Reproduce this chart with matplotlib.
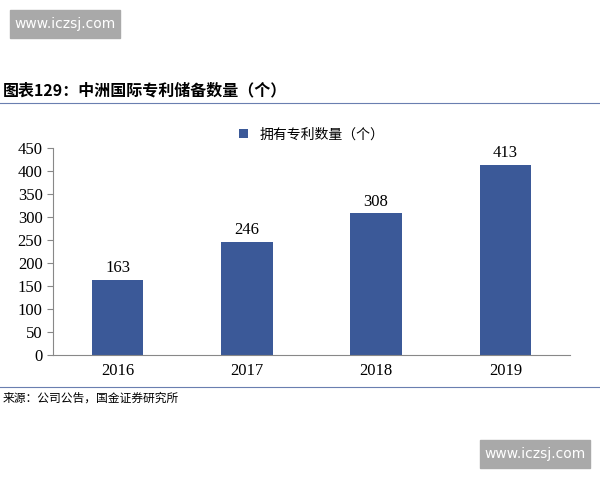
import matplotlib
matplotlib.use("Agg")
import matplotlib.pyplot as plt
from matplotlib.patches import Rectangle

years = ["2016", "2017", "2018", "2019"]
values = [163, 246, 308, 413]
yticks = [0, 50, 100, 150, 200, 250, 300, 350, 400, 450]
series_name = "拥有专利数量（个）"
title = "图表129：中洲国际专利储备数量（个）"
source = "来源：公司公告，国金证券研究所"
wm = "www.iczsj.com"

cjk = ["Noto Sans CJK SC", "DejaVu Sans"]
serif = ["Liberation Serif", "Noto Sans CJK SC"]
W, H = 600, 480
fig = plt.figure(figsize=(6, 4.8), dpi=100)

def fx(x): return x / W
def fy(y): return 1 - y / H

ax = fig.add_axes([fx(53), fy(355), fx(570) - fx(53), fy(148) - fy(355)])
ax.bar(range(len(years)), values, width=0.4, color="#3B5998", label=series_name)
for i, v in enumerate(values):
    ax.text(i, v + 8, str(v), ha="center", va="bottom", fontsize=12, family=serif)
ax.set_xlim(-0.5, 3.5)
ax.set_ylim(0, 450)
ax.set_yticks(yticks)
ax.set_yticklabels([str(t) for t in yticks], family=serif, fontsize=12)
ax.set_xticks(range(len(years)))
ax.set_xticklabels(years, family=serif, fontsize=12)
for s in ["top", "right"]:
    ax.spines[s].set_visible(False)
ax.spines["left"].set_color("#888888")
ax.spines["bottom"].set_color("#888888")
ax.tick_params(axis="x", length=0, pad=6)
ax.tick_params(axis="y", length=4, color="#888888")
ax.legend(loc="upper center", bbox_to_anchor=(0.5, 1.16), frameon=False,
          prop={"family": cjk, "size": 10}, handlelength=0.7, handleheight=0.7)

fig.text(fx(3), fy(90), title, fontsize=11.5, fontweight="bold", style="italic",
         family=cjk, va="center", ha="left")
fig.add_artist(plt.Line2D([0, 1], [fy(103), fy(103)], color="#6a7fb0", lw=0.8))
fig.add_artist(plt.Line2D([0, 1], [fy(387), fy(387)], color="#6a7fb0", lw=0.8))
fig.text(fx(3), fy(398), source, fontsize=8.5, family=cjk, va="center", ha="left")

for (x0, y0) in [(10, 10), (480, 440)]:
    fig.add_artist(Rectangle((fx(x0), fy(y0 + 28)), fx(110), 28 / H,
                             transform=fig.transFigure, color="#a9a9a9"))
    fig.text(fx(x0 + 55), fy(y0 + 14), wm, color="white", fontsize=10,
             ha="center", va="center")

fig.savefig("out.png", dpi=100)
